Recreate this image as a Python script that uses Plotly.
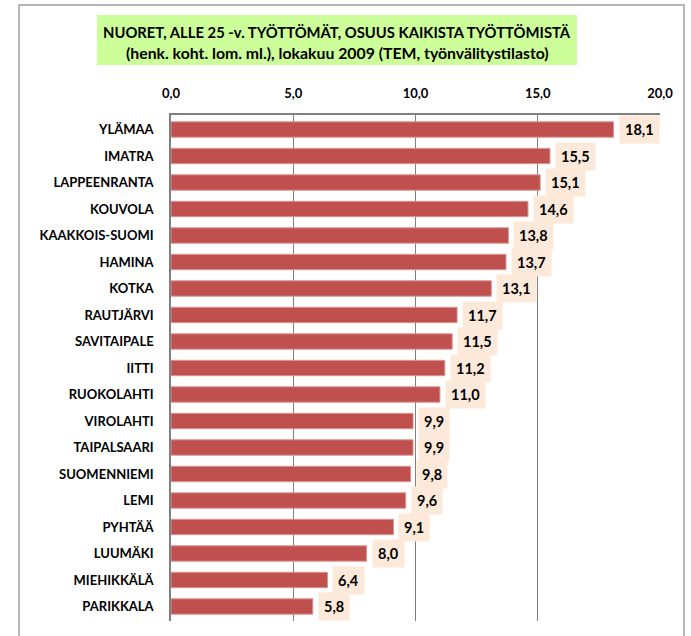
import plotly.graph_objects as go

categories = ["YLÄMAA", "IMATRA", "LAPPEENRANTA", "KOUVOLA", "KAAKKOIS-SUOMI", "HAMINA",
              "KOTKA", "RAUTJÄRVI", "SAVITAIPALE", "IITTI", "RUOKOLAHTI", "VIROLAHTI",
              "TAIPALSAARI", "SUOMENNIEMI", "LEMI", "PYHTÄÄ", "LUUMÄKI", "MIEHIKKÄLÄ", "PARIKKALA"]
values = [18.1, 15.5, 15.1, 14.6, 13.8, 13.7, 13.1, 11.7, 11.5, 11.2, 11.0, 9.9, 9.9, 9.8, 9.6, 9.1, 8.0, 6.4, 5.8]
tick_vals = [0, 5, 10, 15, 20]
tick_text = ["0,0", "5,0", "10,0", "15,0", "20,0"]
title_lines = ["NUORET, ALLE 25 -v. TYÖTTÖMÄT, OSUUS KAIKISTA TYÖTTÖMISTÄ",
               "(henk. koht. lom. ml.), lokakuu 2009 (TEM, työnvälitystilasto)"]

FONT = "Lato"
W, H = 691, 636
L, R, T, B = 171, 660, 115, 621

def px(x):
    return (x - L) / (R - L)

def py(y):
    return (B - y) / (B - T)

fig = go.Figure(go.Bar(
    x=values, y=categories, orientation="h",
    marker=dict(color="#C0504D", line=dict(color="#D99694", width=1)),
    hoverinfo="x+y",
))

annotations = []
for c, v in zip(categories, values):
    annotations.append(dict(
        x=v, y=c, xref="x", yref="y", xanchor="left", yanchor="middle",
        xshift=5, text=f"{v:.1f}".replace(".", ","), showarrow=False,
        font=dict(family=FONT, size=14.5, color="#000000", weight="bold"),
        bgcolor="#FDE9D9", borderpad=5,
    ))

for line, yy, fs in zip(title_lines, [32, 52], [14.8, 15.8]):
    annotations.append(dict(
        x=px(337), y=py(yy), xref="paper", yref="paper", xanchor="center", yanchor="middle",
        text=line, showarrow=False,
        font=dict(family=FONT, size=fs, color="#000000", weight="bold"),
    ))

shapes = [
    dict(type="rect", xref="paper", yref="paper", x0=px(19), x1=px(684), y0=py(640), y1=py(5),
         line=dict(color="#A0A0A0", width=1.5), fillcolor="rgba(0,0,0,0)", layer="below"),
    dict(type="rect", xref="paper", yref="paper", x0=px(97), x1=px(577), y0=py(65), y1=py(15),
         line=dict(width=0), fillcolor="#CCFF99", layer="below"),
]

fig.update_layout(
    width=W, height=H,
    margin=dict(l=L, r=W - R, t=T, b=H - B, autoexpand=False),
    paper_bgcolor="white", plot_bgcolor="white",
    showlegend=False,
    bargap=0.42,
    xaxis=dict(range=[0, 20], side="top", tickvals=tick_vals, ticktext=tick_text,
               showgrid=True, gridcolor="#808080", gridwidth=1,
               showline=True, linecolor="#808080", linewidth=1.5, mirror=False,
               ticks="", zeroline=False, automargin=False, ticklabelstandoff=10,
               tickfont=dict(family=FONT, size=13, color="#000000", weight="bold")),
    yaxis=dict(categoryorder="array", categoryarray=categories, autorange="reversed",
               showline=True, linecolor="#808080", linewidth=1.5, ticks="",
               showgrid=False, automargin=False, ticklabelstandoff=13,
               tickfont=dict(family=FONT, size=13, color="#000000", weight="bold")),
    annotations=annotations,
    shapes=shapes,
)

fig.write_html("out.html", config={"displayModeBar": False},
               post_script="document.body.style.margin='0';")
